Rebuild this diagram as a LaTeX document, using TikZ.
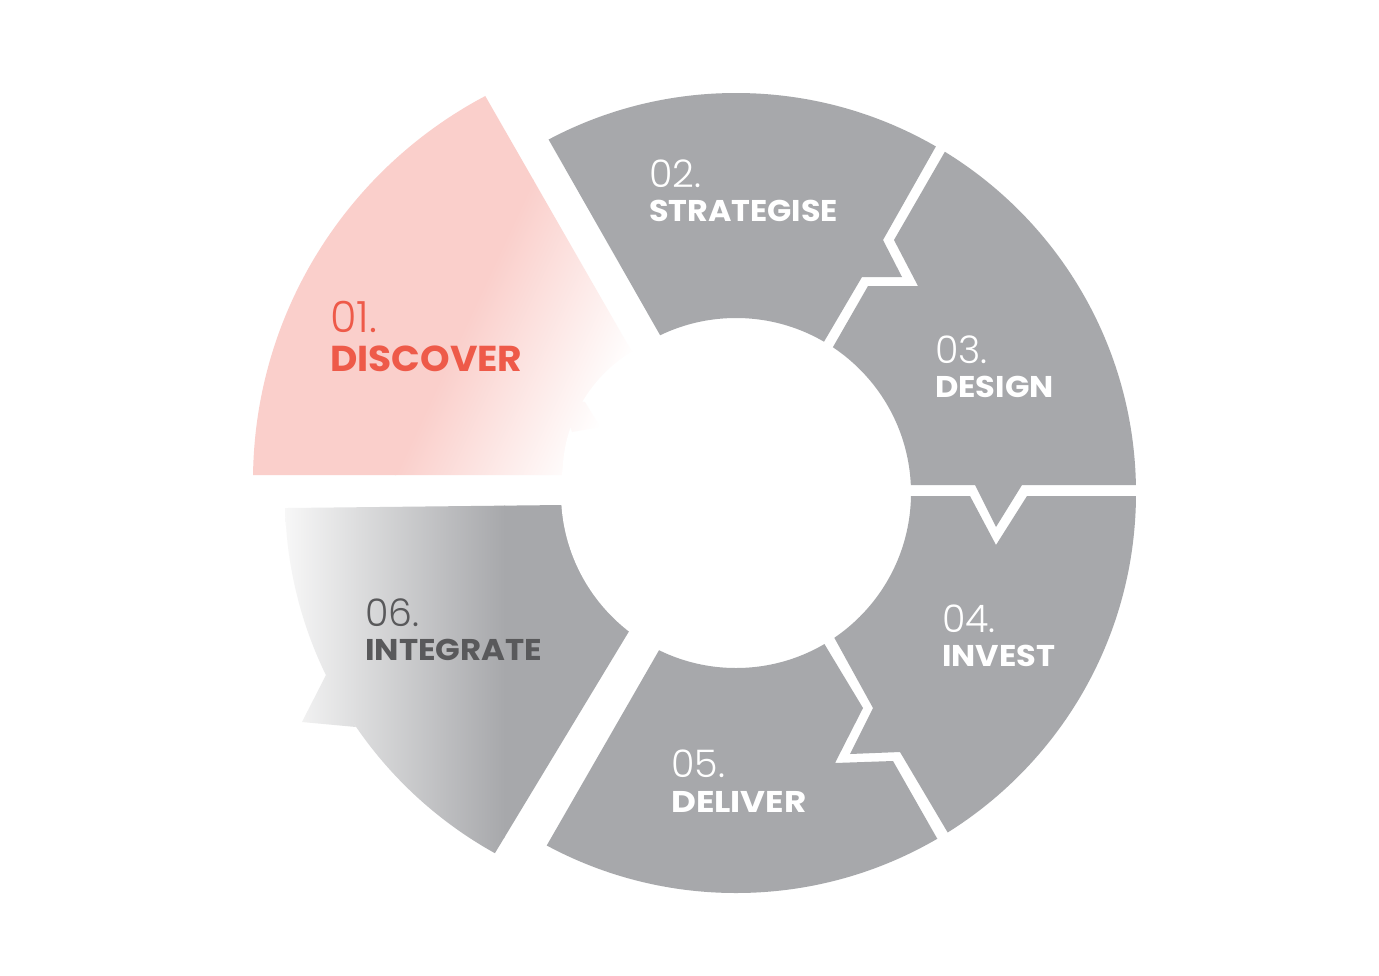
\documentclass[tikz,border=0pt]{standalone}
\usepackage{fontspec}
\newfontfamily\numfont{Poppins Light}
\newfontfamily\namefont{Poppins Bold}
\definecolor{segray}{HTML}{A7A8AB}
\definecolor{pinkA}{HTML}{FACFCB}
\definecolor{coral}{HTML}{EE5A49}
\definecolor{darktext}{HTML}{59595B}
\definecolor{fadegray}{HTML}{F7F7F7}
\tikzset{
  stepnum/.style={anchor=base west, inner sep=0pt, text=white, font=\numfont\fontsize{38}{38}\selectfont},
  steplabel/.style={anchor=base west, inner sep=0pt, text=white, font=\namefont\fontsize{30}{30}\selectfont},
  ringfill/.style={fill=segray, even odd rule}
}
\newcommand{\oneshade}{%
  \begin{scope}[transform canvas={shift={(395,475)},rotate=-25}]
    \fill[pinkA] (-800,-800) rectangle (1,800);
    \shade[left color=pinkA, right color=white] (0,-800) rectangle (165,800);
    \fill[white] (164,-800) rectangle (800,800);
  \end{scope}}
\newcommand{\sixshade}{%
  \fill[fadegray] (100,450) rectangle (286,950);
  \shade[left color=fadegray, right color=segray] (285,450) rectangle (505,950);
  \fill[segray] (504,450) rectangle (760,950);}
\newcommand{\stretchtxt}[2]{\scalebox{#1}[1]{#2}}
\begin{document}
\begin{tikzpicture}[x=1pt,y=-1pt]
\useasboundingbox (0,0) rectangle (1379,975);
\fill[white] (0,0) rectangle (1379,975);

% 01 DISCOVER body
\begin{scope}
  \clip (702.6,475) -- (456,45) -- (100,45) -- (100,475) -- cycle;
  \clip (688,481) circle[radius=435];
  \oneshade
\end{scope}

% 06 INTEGRATE body
\begin{scope}
  \clip (150,509.5) -- (690,503.6) -- (681,545) -- (628,633) -- (495,853) -- (455,919) -- (150,919) -- cycle;
  \clip (692,497) circle[radius=407];
  \sixshade
\end{scope}
\begin{scope}
  \clip (326,675) -- (302,722) -- (356,727) -- cycle;
  \sixshade
\end{scope}

% central holes
\fill[white] (707,475) circle[radius=144.5];
\fill[white] (736,493) circle[radius=175];

% 01 inner arrow tip
\begin{scope}
  \clip (585,402) -- (600,427) -- (572,432) -- (560,400) -- cycle;
  \oneshade
\end{scope}

% 02 STRATEGISE
\begin{scope}
  \clip (550,142) -- (517,84) -- (736,0) -- (956,111) -- (935,148) -- (883,240) -- (902,277) -- (862,277) -- (825,340) -- (799,384) -- (693,393) -- (660,335) -- cycle;
  \path[ringfill] (736,493) circle[radius=400] (736,493) circle[radius=175];
\end{scope}

% 03 DESIGN
\begin{scope}
  \clip (808,390) -- (833,347) -- (868,286) -- (918,286) -- (894,240) -- (943,155) -- (963,121) -- (1200,100) -- (1200,485) -- (1022,485) -- (996,527) -- (975,485) -- (800,485) -- cycle;
  \path[ringfill] (736,493) circle[radius=400] (736,493) circle[radius=175];
\end{scope}

% 04 INVEST
\begin{scope}
  \clip (800,496) -- (970,496) -- (996,545) -- (1027,496) -- (1200,496) -- (1200,900) -- (978,884) -- (948,833) -- (900,752) -- (850,754) -- (873,708) -- (835,639) -- (805,585) -- cycle;
  \path[ringfill] (736,493) circle[radius=400] (736,493) circle[radius=175];
\end{scope}

% 05 DELIVER
\begin{scope}
  \clip (800,604) -- (825,645) -- (863,708) -- (835,763) -- (893,761) -- (938,840) -- (963,884) -- (736,980) -- (514,903) -- (547,845) -- (658,652) -- (702,575) -- cycle;
  \path[ringfill] (736,493) circle[radius=400] (736,493) circle[radius=175];
\end{scope}

% labels
\node[stepnum, text=coral, font=\numfont\fontsize{43}{43}\selectfont] (n1) at (330,332) {01.};
\node[steplabel, text=coral, font=\namefont\fontsize{36}{36}\selectfont] (l1) at (330,371) {\stretchtxt{1.045}{DISCOVER}};
\node[stepnum] (n2) at (649,187) {02.};
\node[steplabel] (l2) at (649,221) {\stretchtxt{1.06}{STRATEGISE}};
\node[stepnum] (n3) at (935,363) {03.};
\node[steplabel] (l3) at (935,397) {\stretchtxt{1.07}{DESIGN}};
\node[stepnum] (n4) at (942,632) {04.};
\node[steplabel] (l4) at (942,666) {\stretchtxt{1.07}{INVEST}};
\node[stepnum] (n5) at (671,777) {05.};
\node[steplabel] (l5) at (671,812) {\stretchtxt{1.14}{DELIVER}};
\node[stepnum, text=darktext] (n6) at (365,626) {06.};
\node[steplabel, text=darktext] (l6) at (365,660) {\stretchtxt{1.08}{INTEGRATE}};
\end{tikzpicture}
\end{document}
